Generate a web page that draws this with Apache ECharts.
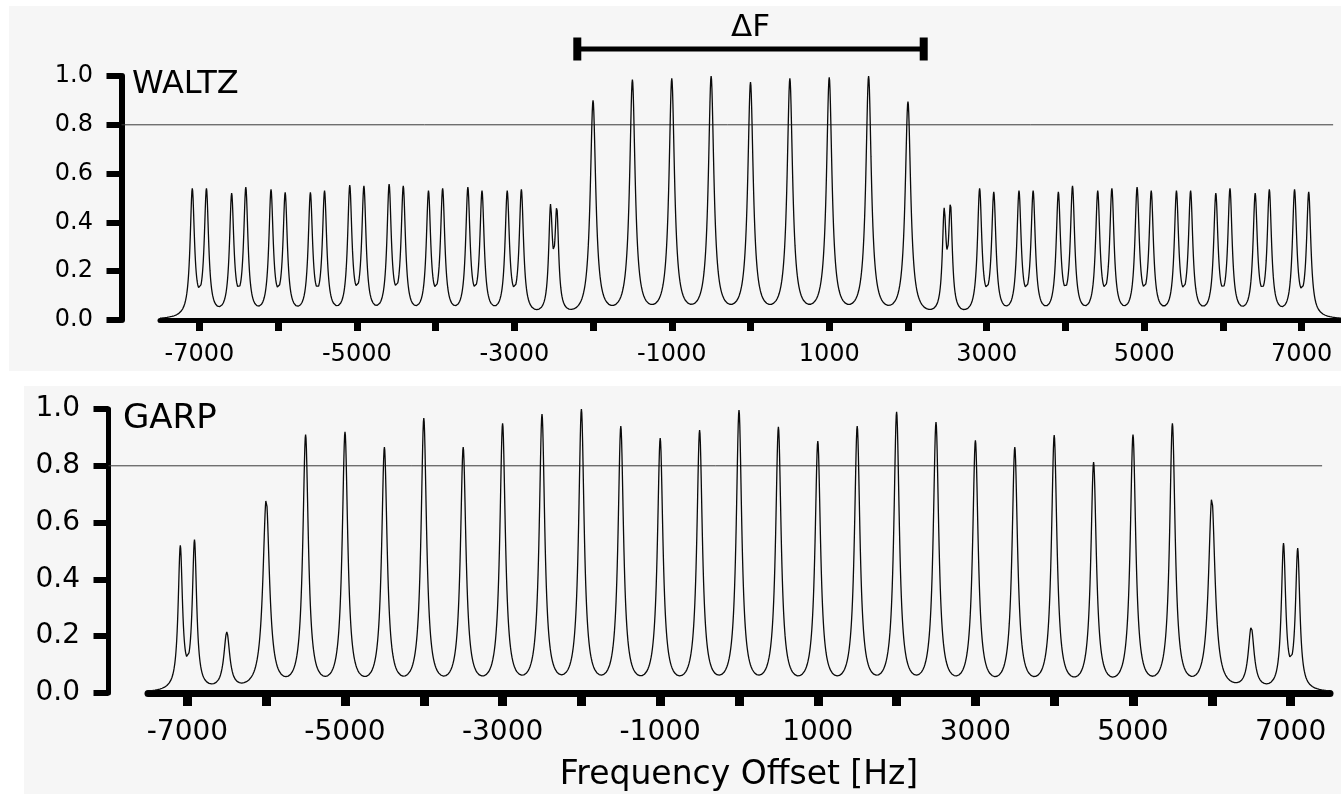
<!DOCTYPE html>
<html>
<head>
<meta charset="utf-8">
<script src="https://cdn.jsdelivr.net/npm/echarts@6/dist/echarts.min.js"></script>
<style>
html,body{margin:0;padding:0;background:#ffffff;}
#chart{width:1341px;height:794px;}
</style>
</head>
<body>
<div id="chart"></div>
<script>
// ---------------- data ----------------
const X_MIN = -7500, X_MAX = 7500;
const X_TICK_VALUES = [-7000,-6000,-5000,-4000,-3000,-2000,-1000,0,1000,2000,3000,4000,5000,6000,7000];
const X_LABEL_VALUES = [-7000,-5000,-3000,-1000,1000,3000,5000,7000];
const Y_MIN = 0, Y_MAX = 1, Y_STEP = 0.2;
const REF_LEVEL = 0.8;          // horizontal reference line
const REF_END = 7400;           // where the reference line stops [Hz]
const DELTA_F = [-2200, 2200];  // ΔF bracket [Hz]
const X_TITLE = 'Frequency Offset [Hz]';

// WALTZ spectrum: peak positions [Hz], apparent heights, half widths [Hz]
const waltzPos = [
  -7090,-6910, -6590,-6410, -6090,-5910, -5590,-5410, -5090,-4910,
  -4590,-4410, -4090,-3910, -3590,-3410, -3090,-2910, -2540,-2460,
  -2000,-1500,-1000,-500,0,500,1000,1500,2000,
  2460,2540, 2910,3090, 3410,3590, 3910,4090, 4410,4590,
  4910,5090, 5410,5590, 5910,6090, 6410,6590, 6910,7090
];
const waltzHeight = [
  0.54,0.54, 0.52,0.545, 0.535,0.523, 0.523,0.53, 0.553,0.55,
  0.557,0.55, 0.53,0.54, 0.545,0.53, 0.53,0.535, 0.475,0.465,
  0.90,0.985,0.99,1.0,0.975,0.99,0.995,1.0,0.895,
  0.46,0.48, 0.54,0.525, 0.53,0.53, 0.525,0.55, 0.53,0.54,
  0.545,0.53, 0.53,0.53, 0.52,0.54, 0.52,0.535, 0.535,0.525
];
const waltzWidth = [
  33,33, 33,33, 33,33, 33,33, 33,33,
  33,33, 33,33, 33,33, 33,33, 28,28,
  42,42,42,42,42,42,42,42,42,
  28,28, 33,33, 33,33, 33,33, 33,33,
  33,33, 33,33, 33,33, 33,33, 33,33
];

// GARP spectrum
const garpPos = [
  -7090,-6910,-6500,-6000,-5500,-5000,-4500,-4000,-3500,-3000,-2500,-2000,-1500,-1000,-500,
  0,500,1000,1500,2000,2500,3000,3500,4000,4500,5000,5500,6000,6500,6910,7090
];
const garpHeight = [
  0.52,0.54,0.215,0.683,0.91,0.92,0.866,0.968,0.866,0.95,0.982,1.0,0.94,0.898,0.926,
  0.996,0.937,0.887,0.94,0.99,0.954,0.89,0.866,0.908,0.813,0.91,0.95,0.687,0.232,0.528,0.51
];
const garpWidth = [
  33,33,45,50,42,42,42,42,42,42,42,42,42,42,42,
  42,42,42,42,42,42,42,42,42,42,42,42,50,45,33,33
];

// ---------------- build line shapes from the peak lists ----------------
function lorentz(f, c, w) { const t = (f - c) / w; return 1 / (1 + t * t); }
function solveAmps(pos, h, w) {
  const a = h.slice();
  for (let it = 0; it < 80; it++) {
    for (let i = 0; i < pos.length; i++) {
      let s = 0;
      for (let j = 0; j < pos.length; j++) s += a[j] * lorentz(pos[i], pos[j], w[j]);
      a[i] = Math.max(0, a[i] + (h[i] - s));
    }
  }
  return a;
}
function spectrum(pos, h, w) {
  const a = solveAmps(pos, h, w);
  const out = [];
  for (let f = X_MIN; f <= X_MAX; f += 5) {
    let s = 0;
    for (let j = 0; j < pos.length; j++) s += a[j] * lorentz(f, pos[j], w[j]);
    out.push([f, s]);
  }
  return out;
}
const waltzData = spectrum(waltzPos, waltzHeight, waltzWidth);
const garpData = spectrum(garpPos, garpHeight, garpWidth);

// ---------------- chart ----------------
const FONT = 'DejaVu Sans';
const chart = echarts.init(document.getElementById('chart'));

const Y_OFF_TOP = 38.5, Y_OFF_BOT = 39.5;

function xAxisCfg(gridIndex, fontSize, lineW, tickW, tickLen, margin, withName) {
  const cfg = {
    type: 'value', gridIndex: gridIndex, min: X_MIN, max: X_MAX,
    axisLine: { onZero: false, lineStyle: { color: '#000', width: lineW } },
    axisTick: { customValues: X_TICK_VALUES, length: tickLen, lineStyle: { color: '#000', width: tickW } },
    axisLabel: { customValues: X_LABEL_VALUES, formatter: v => String(v), fontFamily: FONT,
                 fontSize: fontSize, color: '#000', margin: margin },
    splitLine: { show: false }
  };
  if (withName) {
    cfg.name = X_TITLE;
    cfg.nameLocation = 'middle';
    cfg.nameGap = 66;
    cfg.nameTextStyle = { fontFamily: FONT, fontSize: 33, color: '#000' };
  }
  return cfg;
}
function yAxisCfg(gridIndex, fontSize, offset, lineW, tickW, tickLen) {
  return {
    type: 'value', gridIndex: gridIndex, min: Y_MIN, max: Y_MAX, interval: Y_STEP, offset: offset,
    axisLine: { show: true, onZero: false, lineStyle: { color: '#000', width: lineW } },
    axisTick: { show: true, length: tickLen, lineStyle: { color: '#000', width: tickW } },
    axisLabel: { formatter: v => v.toFixed(1), fontFamily: FONT, fontSize: fontSize, color: '#000', margin: 28.5 },
    splitLine: { show: false }
  };
}

function refLine(gridIndex, yOff) {
  return {
    type: 'custom', xAxisIndex: gridIndex, yAxisIndex: gridIndex, clip: false, silent: true, z: 3,
    data: [[REF_END, REF_LEVEL]],
    renderItem: function (params, api) {
      const cs = params.coordSys;
      const p = api.coord([api.value(0), api.value(1)]);
      return { type: 'line', shape: { x1: cs.x - yOff, y1: p[1], x2: p[0], y2: p[1] },
               style: { stroke: '#3a3a3a', lineWidth: 1 } };
    }
  };
}

const option = {
  animation: false,
  backgroundColor: 'transparent',
  graphic: [
    { type: 'rect', z: -10, shape: { x: 9, y: 6, width: 1332, height: 365 }, style: { fill: '#f6f6f6' } },
    { type: 'rect', z: -10, shape: { x: 24, y: 386, width: 1317, height: 408 }, style: { fill: '#f6f6f6' } }
  ],
  title: [
    { text: 'WALTZ', left: 132, top: 69, padding: 0,
      textStyle: { fontFamily: FONT, fontSize: 32, fontWeight: 'normal', color: '#000' } },
    { text: 'GARP', left: 123, top: 402, padding: 0,
      textStyle: { fontFamily: FONT, fontSize: 34, fontWeight: 'normal', color: '#000' } }
  ],
  grid: [
    { left: 160, top: 76, width: 1183, height: 244 },
    { left: 148, top: 409, width: 1182, height: 284 }
  ],
  xAxis: [
    xAxisCfg(0, 24, 5, 7, 11, 23, false),
    xAxisCfg(1, 28, 7, 9, 13, 26, true)
  ],
  yAxis: [
    yAxisCfg(0, 24, Y_OFF_TOP, 6, 6, 15),
    yAxisCfg(1, 28, Y_OFF_BOT, 5, 6, 15)
  ],
  series: [
    { name: 'WALTZ', type: 'line', xAxisIndex: 0, yAxisIndex: 0, data: waltzData, showSymbol: false,
      symbol: 'none', lineStyle: { color: '#0a0a0a', width: 1.3 }, z: 4 },
    { name: 'GARP', type: 'line', xAxisIndex: 1, yAxisIndex: 1, data: garpData, showSymbol: false,
      symbol: 'none', lineStyle: { color: '#0a0a0a', width: 1.3 }, z: 4 },
    refLine(0, Y_OFF_TOP),
    refLine(1, Y_OFF_BOT),
    {
      type: 'custom', xAxisIndex: 0, yAxisIndex: 0, clip: false, silent: true, z: 5,
      data: [[DELTA_F[0], DELTA_F[1]]],
      renderItem: function (params, api) {
        const cs = params.coordSys;
        const xa = api.coord([api.value(0), 0])[0];
        const xb = api.coord([api.value(1), 0])[0];
        const y = cs.y - 27;
        return {
          type: 'group',
          children: [
            { type: 'line', shape: { x1: xa, y1: y, x2: xb, y2: y }, style: { stroke: '#000', lineWidth: 5 } },
            { type: 'rect', shape: { x: xa - 4, y: y - 11.5, width: 8, height: 23 }, style: { fill: '#000' } },
            { type: 'rect', shape: { x: xb - 4, y: y - 11.5, width: 8, height: 23 }, style: { fill: '#000' } },
            { type: 'text', x: (xa + xb) / 2, y: cs.y - 48,
              style: { text: 'ΔF', fontFamily: FONT, fontSize: 31, fill: '#000', align: 'center', verticalAlign: 'middle' } }
          ]
        };
      }
    }
  ]
};
chart.setOption(option);
</script>
</body>
</html>
